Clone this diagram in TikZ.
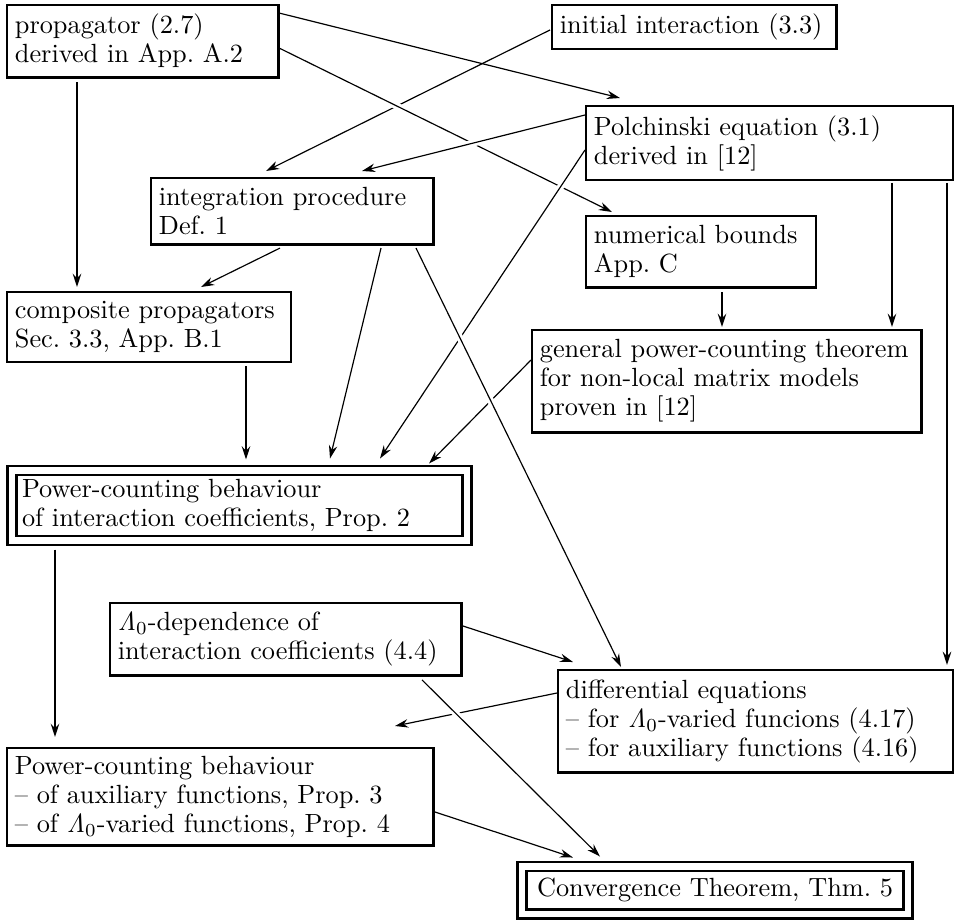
\documentclass[tikz,border=0pt]{standalone}
\usetikzlibrary{arrows.meta,calc,backgrounds}

\tikzset{
  box/.style={draw,line width=1.1pt,anchor=north west,align=left,outer sep=0pt,
    inner xsep=3pt,inner ysep=2pt,font=\fontsize{10}{11}\selectfont},
  dbox/.style={box,double,double distance=2.3pt,inner xsep=3.8pt},
  conn/.style={-{Stealth[length=5pt,width=3.2pt]},line width=0.45pt},
  rulearrow/.style={conn,line width=0.75pt},
  over/.style={preaction={draw=white,line width=2.6pt,-}}
}

\begin{document}
\begin{tikzpicture}[x=0.38pt,y=-0.38pt]
  \useasboundingbox (0,0) rectangle (954,920);

  \node[box,text width=97pt,minimum height=27.4pt] (prop) at (7,5)
    {propagator (2.7)\\derived in App.~A.2};
  \node[box,text width=102pt,minimum height=16.7pt] (init) at (552,5)
    {initial interaction (3.3)};
  \node[box,text width=133.5pt,minimum height=28.1pt] (polch) at (586,106)
    {Polchinski equation (3.1)\\derived in [12]};
  \node[box,text width=101.5pt,minimum height=25.1pt] (integ) at (151,178)
    {integration procedure\\Def.~1};
  \node[box,text width=81.4pt,minimum height=27pt] (numer) at (586,216)
    {numerical bounds\\App.~C};
  \node[box,text width=101.9pt,minimum height=26.6pt] (compo) at (7,292)
    {composite propagators\\Sec.~3.3, App.~B.1};
  \node[box,text width=142pt,minimum height=38.8pt] (gener) at (532,330)
    {general power-counting theorem\\for non-local matrix models\\proven in [12]};
  \node[dbox,text width=165.3pt,minimum height=26.6pt] (pcint) at (12,470.5)
    {Power-counting behaviour\\of interaction coefficients, Prop.~2};
  \node[box,text width=127.4pt,minimum height=27.7pt] (lambda) at (110,603)
    {$\mathit{\Lambda}_0$-dependence of\\interaction coefficients (4.4)};
  \node[box,text width=144.1pt,minimum height=38.8pt] (diffe) at (558,670)
    {differential equations\\-- for $\mathit{\Lambda}_0$-varied funcions (4.17)\\-- for auxiliary functions (4.16)};
  \node[box,text width=155.9pt,minimum height=36.9pt] (pcaux) at (7,748)
    {Power-counting behaviour\\-- of auxiliary functions, Prop.~3\\-- of $\mathit{\Lambda}_0$-varied functions, Prop.~4};
  \node[dbox,inner xsep=5.7pt,minimum height=17.9pt] (conv) at (522,866.5)
    {Convergence Theorem, Thm.~5};

  \begin{scope}[on background layer]
    \draw[conn] ($(prop.north east)+(1,8)$) -- ($(polch.north west)+(34,-8)$);
    \draw[rulearrow] ($(prop.south west)+(70,5)$) -- ($(compo.north west)+(70,-5)$);
    \draw[conn] ($(init.west)+(-2,3)$) -- ($(integ.north west)+(115,-7)$);
    \draw[rulearrow] ($(polch.south west)+(306,3)$) -- ($(gener.north west)+(360,-3)$);
    \draw[rulearrow,line width=1.1pt] ($(polch.south west)+(361,3)$) -- ($(diffe.north west)+(389,-5)$);
    \draw[conn] ($(integ.south west)+(129,4)$) -- ($(compo.north west)+(194,-5)$);
    \draw[conn] ($(integ.south west)+(230,4)$) -- ($(pcint.north west)+(318,-12)$);
    \draw[rulearrow] ($(numer.south west)+(136,5)$) -- ($(gener.north west)+(190,-3)$);
    \draw[conn] ($(gener.north west)+(-1,30)$) -- ($(pcint.north west)+(417,-7)$);
    \draw[rulearrow] ($(compo.south west)+(239,4)$) -- ($(pcint.north west)+(234,-11)$);
    \draw[rulearrow] ($(pcint.south west)+(43,9)$) -- ($(pcaux.north west)+(48,-11)$);
    \draw[conn] ($(lambda.north east)+(2,23)$) -- ($(diffe.north west)+(15,-8)$);
    \draw[conn] ($(diffe.north west)+(-1,23)$) -- ($(pcaux.north west)+(388,-22)$);
    \draw[conn] ($(pcaux.north east)+(2,64)$) -- ($(conv.north west)+(51,-9)$);
    % crossing lines, drawn over the others
    \draw[conn,over] ($(prop.north east)+(1,43)$) -- ($(numer.north west)+(26,-4)$);
    \draw[conn,over] ($(polch.north west)+(-1,9)$) -- ($(integ.north west)+(211,-7)$);
    \draw[conn,over] ($(polch.north west)+(-1,44)$) -- ($(pcint.north west)+(368,-12)$);
    \draw[conn,over] ($(integ.south west)+(265,4)$) -- ($(diffe.north west)+(63,-3)$);
    \draw[conn,over] ($(lambda.south west)+(312,4)$) -- ($(conv.north west)+(78,-10)$);
  \end{scope}
\end{tikzpicture}
\end{document}
